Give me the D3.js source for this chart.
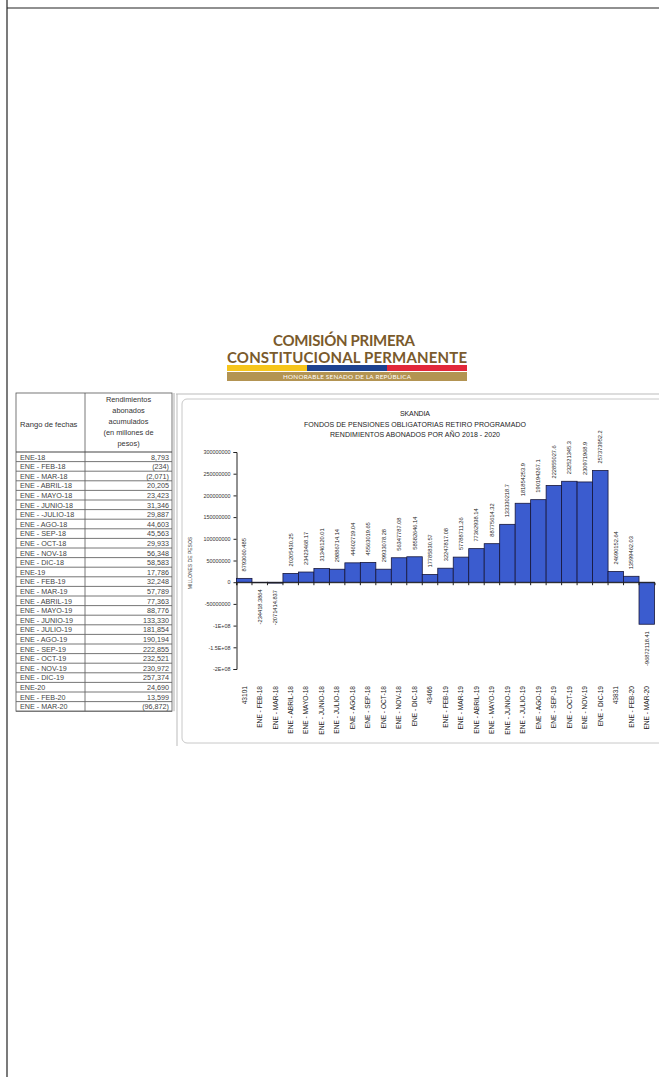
<!DOCTYPE html>
<html>
<head>
<meta charset="utf-8">
<script src="https://cdn.jsdelivr.net/npm/d3@7"></script>
<style>
  html, body { margin: 0; padding: 0; background: #fff; }
  svg { display: block; }
</style>
</head>
<body>
<svg id="page" width="659" height="1077"></svg>
<script>
'use strict'

// rows of the table (first column)
const tableRows = ['ENE-18', 'ENE - FEB-18', 'ENE - MAR-18', 'ENE - ABRIL-18', 'ENE - MAYO-18', 'ENE - JUNIO-18',
  'ENE - -JULIO-18', 'ENE - AGO-18', 'ENE - SEP-18', 'ENE - OCT-18', 'ENE - NOV-18', 'ENE - DIC-18',
  'ENE-19', 'ENE - FEB-19', 'ENE - MAR-19', 'ENE - ABRIL-19', 'ENE - MAYO-19', 'ENE - JUNIO-19',
  'ENE - JULIO-19', 'ENE - AGO-19', 'ENE - SEP-19', 'ENE - OCT-19', 'ENE - NOV-19', 'ENE - DIC-19',
  'ENE-20', 'ENE - FEB-20', 'ENE - MAR-20']

// x labels of the chart (excel shows the january ones as date serials)
const chartCategories = ['43101', 'ENE - FEB-18', 'ENE - MAR-18', 'ENE - ABRIL-18', 'ENE - MAYO-18', 'ENE - JUNIO-18',
  'ENE - JULIO-18', 'ENE - AGO-18', 'ENE - SEP-18', 'ENE - OCT-18', 'ENE - NOV-18', 'ENE - DIC-18',
  '43466', 'ENE - FEB-19', 'ENE - MAR-19', 'ENE - ABRIL-19', 'ENE - MAYO-19', 'ENE - JUNIO-19',
  'ENE - JULIO-19', 'ENE - AGO-19', 'ENE - SEP-19', 'ENE - OCT-19', 'ENE - NOV-19', 'ENE - DIC-19',
  '43831', 'ENE - FEB-20', 'ENE - MAR-20']

// rendimientos abonados (miles de pesos)
const rendimientos = [8793060.485, -234418.3864, -2071414.837, 20205430.25, 23423468.17, 31346120.01,
  29886714.14, 44602719.04, 45563019.65, 29933078.28, 56347787.08, 58582646.14,
  17785830.57, 32247817.08, 57788711.26, 77362938.14, 88775614.32, 133330218.7,
  181854253.9, 190194267.1, 222855027.6, 232521345.3, 230971968.9, 257373952.2,
  24690152.64, 13599462.03, -96872118.41]

const yTickValues = [-200000000, -150000000, -100000000, -50000000, 0, 50000000, 100000000, 150000000, 200000000, 250000000, 300000000]
const yTickLabels = ['-2E+08', '-1.5E+08', '-1E+08', '-50000000', '0', '50000000', '100000000', '150000000', '200000000', '250000000', '300000000']

const chartTitle = ['SKANDIA', 'FONDOS DE PENSIONES OBLIGATORIAS RETIRO PROGRAMADO', 'RENDIMIENTOS ABONADOS POR AÑO 2018 - 2020']
const titleWidths = [30, 222, 170]
const tableHeader = ['Rendimientos', 'abonados', 'acumulados', '(en millones de', 'pesos)']

const svg = d3.select('#page')
const sans = 'Liberation Sans, Arial, sans-serif'

// page frame
svg.append('line').attr('x1', 7).attr('x2', 659).attr('y1', 8).attr('y2', 8).attr('stroke', '#222').attr('stroke-width', 1.2)
svg.append('line').attr('x1', 7).attr('x2', 7).attr('y1', 0).attr('y2', 1077).attr('stroke', '#222').attr('stroke-width', 1.2)

// logo
const logo = svg.append('g')
logo.append('text').attr('x', 344).attr('y', 346).attr('text-anchor', 'middle')
  .attr('font-family', 'Lato, sans-serif').attr('font-weight', 700).attr('font-size', 15)
  .attr('fill', '#7a5a2c').attr('textLength', 142).text('COMISIÓN PRIMERA')
logo.append('text').attr('x', 347).attr('y', 363).attr('text-anchor', 'middle')
  .attr('font-family', 'Lato, sans-serif').attr('font-weight', 700).attr('font-size', 15)
  .attr('fill', '#7a5a2c').attr('textLength', 240).text('CONSTITUCIONAL PERMANENTE')
logo.append('rect').attr('x', 227).attr('y', 365).attr('width', 80).attr('height', 6).attr('fill', '#f6c51b')
logo.append('rect').attr('x', 307).attr('y', 365).attr('width', 80).attr('height', 6).attr('fill', '#1e428f')
logo.append('rect').attr('x', 387).attr('y', 365).attr('width', 80).attr('height', 6).attr('fill', '#e2283b')
logo.append('rect').attr('x', 227).attr('y', 372).attr('width', 240).attr('height', 9).attr('fill', '#b39452')
logo.append('text').attr('x', 347).attr('y', 379).attr('text-anchor', 'middle')
  .attr('font-family', 'Lato, sans-serif').attr('font-size', 6.3).attr('fill', '#fff')
  .attr('textLength', 128).text('HONORABLE SENADO DE LA REPÚBLICA')

// ---- table ----
const tbl = svg.append('g')
const tLeft = 16, tMid = 85, tRight = 172, tTop = 393, tHead = 452, rowH = 9.6
const tBottom = tHead + rowH * tableRows.length

tbl.append('rect').attr('x', tLeft).attr('y', tTop).attr('width', tRight - tLeft).attr('height', tBottom - tTop)
  .attr('fill', '#fff').attr('stroke', '#555').attr('stroke-width', 0.8)
tbl.append('line').attr('x1', tMid).attr('x2', tMid).attr('y1', tTop).attr('y2', tBottom).attr('stroke', '#555').attr('stroke-width', 0.8)
tbl.append('line').attr('x1', tLeft).attr('x2', tRight).attr('y1', tHead).attr('y2', tHead).attr('stroke', '#444').attr('stroke-width', 1.2)
tbl.append('line').attr('x1', 174).attr('x2', 174).attr('y1', tTop).attr('y2', tBottom).attr('stroke', '#999').attr('stroke-width', 0.8)
tbl.append('text').attr('x', tLeft + 4).attr('y', 427).attr('font-family', sans).attr('font-size', 7.6)
  .attr('fill', '#333').text('Rango de fechas')
tbl.selectAll('.hdr').data(tableHeader).join('text').attr('class', 'hdr')
  .attr('x', (tMid + tRight) / 2).attr('y', (d, i) => 402 + i * 11)
  .attr('text-anchor', 'middle').attr('font-family', sans).attr('font-size', 7.4).attr('fill', '#333').text(d => d)

const fmtMill = v => {
  const s = d3.format(',.0f')(Math.abs(v) / 1000)
  return v < 0 ? '(' + s + ')' : s
}
const rows = tbl.selectAll('.row').data(tableRows).join('g').attr('class', 'row')
  .attr('transform', (d, i) => `translate(0,${tHead + i * rowH})`)
rows.append('line').attr('x1', tLeft).attr('x2', tRight).attr('y1', rowH).attr('y2', rowH)
  .attr('stroke', '#666').attr('stroke-width', 0.9)
rows.append('text').attr('x', tLeft + 4).attr('y', rowH - 2).attr('font-family', sans).attr('font-size', 7.2)
  .attr('fill', '#444').text(d => d)
rows.append('text').attr('x', tRight - 3).attr('y', rowH - 2).attr('text-anchor', 'end')
  .attr('font-family', sans).attr('font-size', 7.2).attr('fill', '#444')
  .text((d, i) => fmtMill(rendimientos[i]))

// ---- chart ----
const ch = svg.append('g')
ch.append('line').attr('x1', 176).attr('x2', 659).attr('y1', 394).attr('y2', 394).attr('stroke', '#bbb')
ch.append('line').attr('x1', 177).attr('x2', 177).attr('y1', 394).attr('y2', 746).attr('stroke', '#bbb')
ch.append('rect').attr('x', 182).attr('y', 399).attr('width', 490).attr('height', 344).attr('rx', 5)
  .attr('fill', '#fff').attr('stroke', '#c8c8c8').attr('stroke-width', 1)

ch.selectAll('.ttl').data(chartTitle).join('text').attr('class', 'ttl')
  .attr('x', 415).attr('y', (d, i) => 416 + i * 10.5).attr('text-anchor', 'middle')
  .attr('font-family', sans).attr('font-size', 7).attr('fill', '#222')
  .attr('textLength', (d, i) => titleWidths[i]).text(d => d)

const x = d3.scaleBand().domain(chartCategories).range([236.5, 654.5]).paddingInner(0).paddingOuter(0)
const y = d3.scaleLinear().domain([-200000000, 300000000]).range([669, 452])

const yAxis = ch.append('g').attr('transform', 'translate(236.5,0)')
  .call(d3.axisLeft(y).tickValues(yTickValues).tickFormat((d, i) => yTickLabels[i]).tickSize(3).tickPadding(3))
yAxis.select('.domain').attr('stroke', '#222').attr('stroke-width', 1)
yAxis.selectAll('.tick line').attr('stroke', '#222')
yAxis.selectAll('.tick text').attr('font-family', sans).attr('font-size', 5.4).attr('fill', '#333')

ch.append('text').attr('transform', 'translate(192,563) rotate(-90)').attr('text-anchor', 'middle')
  .attr('font-family', sans).attr('font-size', 5).attr('fill', '#333').text('MILLONES DE PESOS')

ch.selectAll('.bar').data(rendimientos).join('rect').attr('class', 'bar')
  .attr('x', (d, i) => x(chartCategories[i]))
  .attr('width', x.bandwidth())
  .attr('y', d => y(Math.max(0, d)))
  .attr('height', d => Math.max(0.5, Math.abs(y(d) - y(0))))
  .attr('fill', '#3b5ccf').attr('stroke', '#16163a').attr('stroke-width', 0.8)

const xAxis = ch.append('g').attr('transform', `translate(0,${y(0)})`)
  .call(d3.axisBottom(x).tickSize(3).tickFormat(''))
xAxis.select('.domain').attr('stroke', '#222')
xAxis.selectAll('.tick').attr('transform', d => `translate(${x(d)},0)`)
xAxis.selectAll('.tick line').attr('stroke', '#222')

// value labels
ch.selectAll('.vlab').data(rendimientos).join('text').attr('class', 'vlab')
  .attr('transform', (d, i) => {
    const cx = x(chartCategories[i]) + x.bandwidth() / 2 + 2
    const yy = d >= 0 ? y(d) - 7 : y(d) + 7
    return `translate(${cx},${yy}) rotate(-90)`
  })
  .attr('text-anchor', d => d >= 0 ? 'start' : 'end')
  .attr('font-family', sans).attr('font-size', 5.7).attr('fill', '#222')
  .text(d => String(d))

// category labels
ch.selectAll('.clab').data(chartCategories).join('text').attr('class', 'clab')
  .attr('transform', d => `translate(${x(d) + x.bandwidth() / 2 + 2.3},686) rotate(-90)`)
  .attr('text-anchor', 'end').attr('font-family', sans).attr('font-size', 6.6).attr('fill', '#222')
  .text(d => d)
</script>
</body>
</html>
